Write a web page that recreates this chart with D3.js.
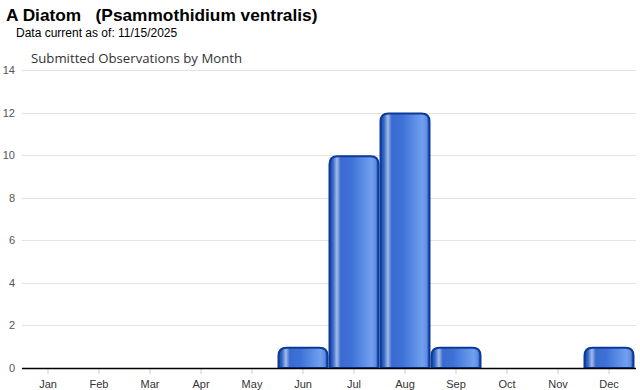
<!DOCTYPE html>
<html><head><meta charset="utf-8">
<script src="https://cdn.jsdelivr.net/npm/d3@7"></script>
<style>body{margin:0;background:#fff}svg{display:block}</style>
</head><body>
<script>
const months = ["Jan","Feb","Mar","Apr","May","Jun","Jul","Aug","Sep","Oct","Nov","Dec"];
const counts = [0,0,0,0,0,1,10,12,1,0,0,1];
const yTicks = [0,2,4,6,8,10,12,14];
const titleText = "A Diatom\u00a0\u00a0\u00a0(Psammothidium ventralis)";
const subText = "Data current as of: 11/15/2025";
const chartTitle = "Submitted Observations by Month";

const W = 640, H = 390;
const svg = d3.select("body").append("svg").attr("width", W).attr("height", H);

const x = d3.scaleBand().domain(months).range([22.5, 634.5]).paddingInner(0.01).paddingOuter(0.005);
const y = d3.scaleLinear().domain([0, 14]).range([368, 70]);

const defs = svg.append("defs");
const g = defs.append("linearGradient").attr("id","barGrad").attr("x1","0").attr("x2","1").attr("y1","0").attr("y2","0");
[["0%","#1446a8"],["7%","#3566c8"],["15%","#a4bce6"],["23%","#3a6ad0"],["45%","#3e72d8"],["86%","#72a0ee"],["94%","#5f8ee4"],["100%","#1446a8"]]
  .forEach(([o,c]) => g.append("stop").attr("offset",o).attr("stop-color",c));

svg.append("text").attr("x",6).attr("y",21).attr("font-family","Liberation Sans, Arial, sans-serif")
  .attr("font-size",17.3).attr("font-weight","bold").attr("fill","#000").text(titleText);
svg.append("text").attr("x",16).attr("y",37).attr("font-family","Liberation Sans, Arial, sans-serif")
  .attr("font-size",12).attr("fill","#000").text(subText);
svg.append("text").attr("x",31).attr("y",63).attr("font-family","Open Sans, sans-serif")
  .attr("font-size",13.2).attr("fill","#333").text(chartTitle);

// gridlines
svg.append("g").selectAll("line").data(yTicks.filter(d=>d>0)).join("line")
  .attr("x1",22).attr("x2",636).attr("y1",d=>Math.round(y(d))+0.5).attr("y2",d=>Math.round(y(d))+0.5)
  .attr("stroke","#e3e3e3").attr("stroke-width",1);

// y labels
const yAxis = svg.append("g").attr("transform","translate(22,0)")
  .call(d3.axisLeft(y).tickValues(yTicks).tickSize(0).tickPadding(7));
yAxis.select(".domain").remove();
yAxis.selectAll("text").attr("font-family","Liberation Sans, Arial, sans-serif").attr("font-size",11).attr("fill","#555");

// bars
const r = 8;
function barPath(x0, w, yTop, yBot){
  const rr = Math.min(r, (yBot-yTop), w/2);
  return `M${x0},${yBot}V${yTop+rr}Q${x0},${yTop} ${x0+rr},${yTop}H${x0+w-rr}Q${x0+w},${yTop} ${x0+w},${yTop+rr}V${yBot}Z`;
}
svg.append("g").selectAll("path").data(months.map((m,i)=>({m, v:counts[i]})).filter(d=>d.v>0)).join("path")
  .attr("d", d => barPath(x(d.m)+0.75, x.bandwidth()-1.5, y(d.v)+1, y(0)))
  .attr("fill","url(#barGrad)").attr("stroke","#0c3a98").attr("stroke-width",2);

// x axis
const xAxis = svg.append("g").attr("transform","translate(0,368)")
  .call(d3.axisBottom(x).tickSize(6).tickPadding(6).tickSizeOuter(0));
xAxis.select(".domain").remove();
xAxis.selectAll(".tick line").attr("stroke","#ccc").attr("y1",1);
xAxis.selectAll("text").attr("font-family","Liberation Sans, Arial, sans-serif").attr("font-size",11).attr("fill","#333");
svg.append("line").attr("x1",22).attr("x2",636).attr("y1",368.5).attr("y2",368.5).attr("stroke","#000").attr("stroke-width",1.5);
</script>
</body></html>
